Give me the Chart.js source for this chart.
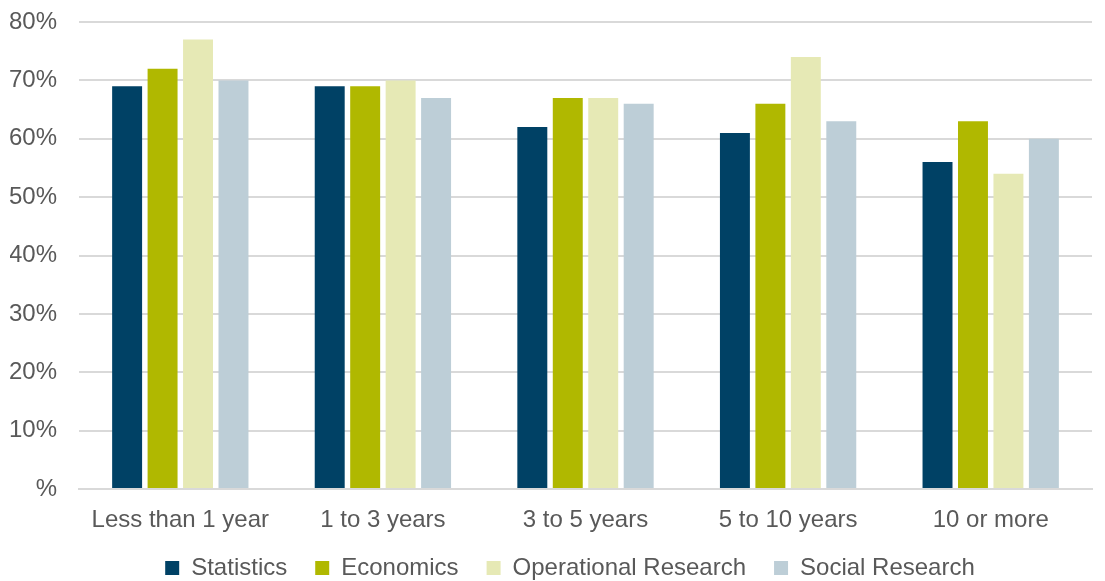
<!DOCTYPE html>
<html>
<head>
<meta charset="utf-8">
<script src="https://cdn.jsdelivr.net/npm/chart.js@4"></script>
<style>
  html, body { margin: 0; padding: 0; background: #fff; overflow: hidden; }
  #wrap { width: 1105px; height: 581px; }
</style>
</head>
<body>
<div id="wrap"><canvas id="tenureChart" width="1105" height="581"></canvas></div>
<script>
const categories = ['Less than 1 year', '1 to 3 years', '3 to 5 years', '5 to 10 years', '10 or more'];
const statistics = [69, 69, 62, 61, 56];
const economics = [72, 69, 67, 66, 63];
const operationalResearch = [77, 70, 67, 74, 54];
const socialResearch = [70, 67, 66, 63, 60];
const yTicks = [0, 10, 20, 30, 40, 50, 60, 70, 80];

const textColor = '#595959';
const gridColor = '#d9d9d9';
const fontFamily = 'Liberation Sans, Arial, sans-serif';

function series(label, data, color) {
    return {
        label: label,
        data: data,
        backgroundColor: color,
        borderWidth: 0,
        categoryPercentage: 0.70,
        barPercentage: 0.845
    };
}

// Legend: wide gaps between items but a short box, nudged under the plot area
const legendTweak = {
    id: 'legendTweak',
    afterInit(chart) {
        const legend = chart.legend;
        const fit = legend.fit.bind(legend);
        legend.fit = function () {
            fit();
            this.height = 48;
        };
    },
    afterLayout(chart) {
        const legend = chart.legend;
        legend.left += 19;
        legend.right += 19;
        legend.top -= 5;
    }
};

const ctx = document.getElementById('tenureChart').getContext('2d');
new Chart(ctx, {
    type: 'bar',
    data: {
        labels: categories,
        datasets: [
            series('Statistics', statistics, '#004165'),
            series('Economics', economics, '#b0b800'),
            series('Operational Research', operationalResearch, '#e6e9b5'),
            series('Social Research', socialResearch, '#bdced7')
        ]
    },
    plugins: [legendTweak],
    options: {
        responsive: false,
        animation: false,
        layout: { padding: { left: 10, right: 13, top: 0, bottom: 0 } },
        plugins: {
            tooltip: { enabled: false },
            legend: {
                position: 'bottom',
                labels: {
                    color: textColor,
                    font: { family: fontFamily, size: 24 },
                    boxWidth: 14,
                    boxHeight: 14,
                    padding: 28
                }
            }
        },
        scales: {
            x: {
                grid: { display: false },
                border: { color: gridColor, width: 2 },
                ticks: {
                    color: textColor,
                    font: { family: fontFamily, size: 24 },
                    padding: 9
                },
                // keep the long first label from pushing the plot area right
                afterFit: axis => {
                    axis.paddingLeft = 0;
                    axis.paddingRight = 0;
                    axis.height = 44;
                }
            },
            y: {
                min: 0,
                max: 80,
                afterBuildTicks: axis => { axis.ticks = yTicks.map(v => ({ value: v })); },
                afterFit: axis => {
                    axis.width = 69;
                    axis.paddingTop = 22;
                    axis.paddingBottom = 0;
                },
                grid: { color: gridColor, lineWidth: 2, drawTicks: false },
                border: { display: false },
                ticks: {
                    color: textColor,
                    font: { family: fontFamily, size: 24 },
                    padding: 22,
                    callback: v => v === 0 ? '%' : v + '%'
                }
            }
        }
    }
});
</script>
</body>
</html>
